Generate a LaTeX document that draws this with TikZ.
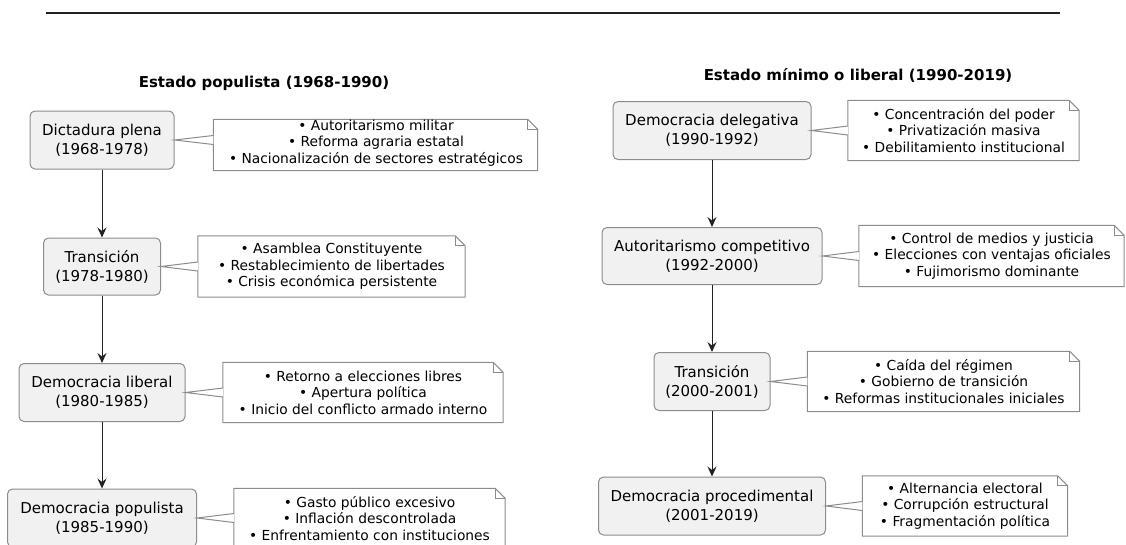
\documentclass[tikz,border=0pt]{standalone}
\usepackage{fontspec}
\setmainfont{DejaVu Sans}
\usetikzlibrary{shapes,positioning,arrows.meta}
\definecolor{cajagris}{HTML}{F1F1F1}
\definecolor{bordegris}{HTML}{8C8C8C}
\definecolor{flecha}{HTML}{222222}
\tikzset{etapa/.style={rectangle,rounded corners=5pt,draw=bordegris,fill=cajagris,line width=1pt,align=center,inner sep=0pt,font=\fontsize{15}{19}\selectfont},
  nota/.style={rectangle,fill=white,align=center,inner sep=0pt,font=\fontsize{13.8}{16.6}\selectfont},
  pliegue/.style={draw=bordegris,line width=1pt},
  cuna/.style={draw=bordegris,line width=1pt,fill=white},
  titulo/.style={font=\bfseries\fontsize{15}{18}\selectfont}}

\begin{document}
\begin{tikzpicture}[x=1pt,y=-1pt,>={Stealth[length=10pt,width=9pt,inset=3.5pt]}]
    \useasboundingbox (0,0) rectangle (1126,544);
    \draw[line width=2pt,flecha] (46,12.5) -- (1060,12.5);

    % columna izquierda
    \node[titulo] (t1) at (264,83) {Estado populista (1968-1990)};
    \node[etapa,minimum width=144pt,minimum height=58pt] (d1) at (102,140) {Dictadura plena\\(1968-1978)};
    \node[etapa,minimum width=117pt,minimum height=57pt] (d2) at (102,266.5) {Transición\\(1978-1980)};
    \node[etapa,minimum width=166pt,minimum height=58pt] (d3) at (102,392.5) {Democracia liberal\\(1980-1985)};
    \node[etapa,minimum width=189pt,minimum height=58pt] (d4) at (102,518) {Democracia populista\\(1985-1990)};

    \node[nota,minimum width=324pt,minimum height=51pt] (n1) at (375.5,145) {};
    \node[nota,minimum width=267pt,minimum height=61pt] (n2) at (331.5,266.5) {• Asamblea Constituyente\\• Restablecimiento de libertades\\• Crisis económica persistente};
    \node[nota,minimum width=280pt,minimum height=60pt] (n3) at (363,392.5) {• Retorno a elecciones libres\\• Apertura política\\• Inicio del conflicto armado interno};
    \node[nota,minimum width=271pt,minimum height=60pt] (n4) at (369.5,518.5) {• Gasto público excesivo\\• Inflación descontrolada\\• Enfrentamiento con instituciones};

    % columna derecha
    \node[titulo] (t2) at (858,75) {Estado mínimo o liberal (1990-2019)};
    \node[etapa,minimum width=198pt,minimum height=58pt] (e1) at (712,130.5) {Democracia delegativa\\(1990-1992)};
    \node[etapa,minimum width=220pt,minimum height=57pt] (e2) at (712,256) {Autoritarismo competitivo\\(1992-2000)};
    \node[etapa,minimum width=116pt,minimum height=58pt] (e3) at (712,381.5) {Transición\\(2000-2001)};
    \node[etapa,minimum width=227pt,minimum height=58pt] (e4) at (712,506) {Democracia procedimental\\(2001-2019)};

    \node[nota,minimum width=231pt,minimum height=60pt] (m1) at (963.5,130.5) {• Concentración del poder\\• Privatización masiva\\• Debilitamiento institucional};
    \node[nota,minimum width=265pt,minimum height=61pt] (m2) at (991.5,256) {• Control de medios y justicia\\• Elecciones con ventajas oficiales\\• Fujimorismo dominante};
    \node[nota,minimum width=272pt,minimum height=60pt] (m3) at (943.5,381.5) {• Caída del régimen\\• Gobierno de transición\\• Reformas institucionales iniciales};
    \node[nota,minimum width=205pt,minimum height=60pt] (m4) at (965,506) {• Alternancia electoral\\• Corrupción estructural\\• Fragmentación política};

    % bordes de las notas con esquina doblada
    \foreach \n in {n1,n2,n3,n4,m1,m2,m3,m4} {
        \draw[pliegue] (\n.north west) -- ([xshift=-10pt]\n.north east) -- ([yshift=-10pt]\n.north east) -- (\n.south east) -- (\n.south west) -- cycle;
        \draw[pliegue] ([xshift=-10pt]\n.north east) |- ([yshift=-10pt]\n.north east);
    }
    \node[nota] (n1t) at (376,143) {• Autoritarismo militar\\• Reforma agraria estatal\\• Nacionalización de sectores estratégicos};

    % uniones etapa - nota
    \draw[cuna] ([yshift=4.5pt]d1.east -| n1.west) -- (d1.east) -- ([yshift=-4.5pt]d1.east -| n1.west);
    \draw[cuna] ([yshift=4.5pt]d2.east -| n2.west) -- (d2.east) -- ([yshift=-4.5pt]d2.east -| n2.west);
    \draw[cuna] ([yshift=4.5pt]d3.east -| n3.west) -- (d3.east) -- ([yshift=-4.5pt]d3.east -| n3.west);
    \draw[cuna] ([yshift=4.5pt]d4.east -| n4.west) -- (d4.east) -- ([yshift=-4.5pt]d4.east -| n4.west);
    \draw[cuna] ([yshift=4.5pt]e1.east -| m1.west) -- (e1.east) -- ([yshift=-4.5pt]e1.east -| m1.west);
    \draw[cuna] ([yshift=4.5pt]e2.east -| m2.west) -- (e2.east) -- ([yshift=-4.5pt]e2.east -| m2.west);
    \draw[cuna] ([yshift=4.5pt]e3.east -| m3.west) -- (e3.east) -- ([yshift=-4.5pt]e3.east -| m3.west);
    \draw[cuna] ([yshift=4.5pt]e4.east -| m4.west) -- (e4.east) -- ([yshift=-4.5pt]e4.east -| m4.west);

    % flechas
    \draw[->,flecha,line width=1pt] (d1) -- (d2);
    \draw[->,flecha,line width=1pt] (d2) -- (d3);
    \draw[->,flecha,line width=1pt] (d3) -- (d4);
    \draw[->,flecha,line width=1pt] (e1) -- (e2);
    \draw[->,flecha,line width=1pt] (e2) -- (e3);
    \draw[->,flecha,line width=1pt] (e3) -- (e4);
\end{tikzpicture}
\end{document}
